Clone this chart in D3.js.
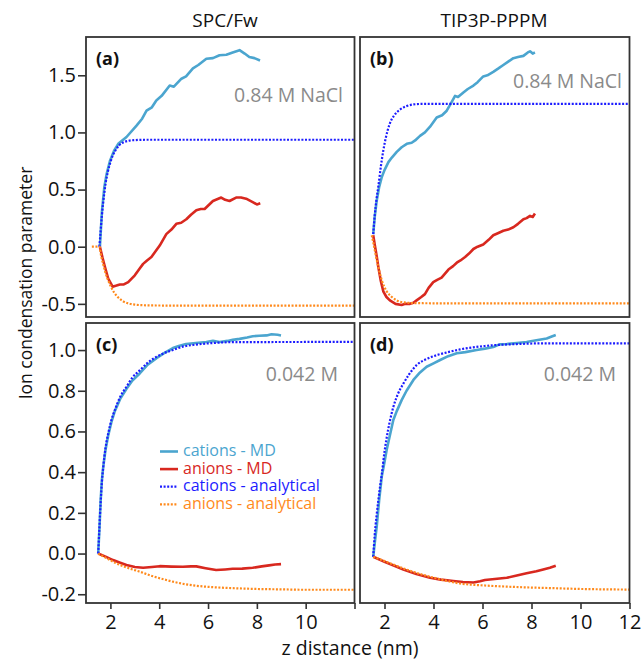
<!DOCTYPE html>
<html>
<head>
<meta charset="UTF-8">
<style>
  body { margin: 0; background: #fff; }
  svg text { font-family: "Open Sans", "DejaVu Sans", sans-serif; }
  .axis path { display: none; }
  .axis line { stroke: #333; stroke-width: 1.6; }
  .axis text { fill: #111; font-size: 20px; }
  .frame { fill: none; stroke: #333; stroke-width: 1.8; }
  .md { fill: none; stroke-width: 2.6; stroke-linejoin: round; }
  .an { fill: none; stroke-width: 2.2; stroke-dasharray: 2 1.6; }
</style>
<script src="https://d3js.org/d3.v7.min.js"></script>
</head>
<body>
<svg width="643" height="660"></svg>
<script>
// ---- data ----
var xTicks = [2, 4, 6, 8, 10, 12];
var yTicksTop = [-0.5, 0.0, 0.5, 1.0, 1.5];
var yTicksBottom = [-0.2, 0.0, 0.2, 0.4, 0.6, 0.8, 1.0];
var colTitles = ['SPC/Fw', 'TIP3P-PPPM'];
var panelTags = ['(a)', '(b)', '(c)', '(d)'];
var concLabels = ['0.84 M NaCl', '0.84 M NaCl', '0.042 M', '0.042 M'];
var legendNames = ['cations - MD', 'anions - MD', 'cations - analytical', 'anions - analytical'];

// panel (a) SPC/Fw, 0.84 M
var aCatMD = [[1.57,0],[1.65,0.3],[1.75,0.52],[1.85,0.64],[1.98,0.75],[2.15,0.84],[2.32,0.9],[2.66,0.96],[3.07,1.06],[3.3,1.12],[3.48,1.19],[3.7,1.22],[3.88,1.28],[4.1,1.32],[4.43,1.41],[4.6,1.40],[4.91,1.47],[5.1,1.49],[5.38,1.56],[5.6,1.59],[5.93,1.645],[6.2,1.65],[6.47,1.675],[6.75,1.68],[7.01,1.70],[7.29,1.72],[7.5,1.69],[7.69,1.66],[7.9,1.65],[8.13,1.63]];
var aAnMD = [[1.57,0],[1.68,-0.1],[1.78,-0.18],[1.91,-0.28],[2.09,-0.35],[2.25,-0.34],[2.39,-0.33],[2.55,-0.33],[2.73,-0.31],[3.0,-0.25],[3.2,-0.19],[3.34,-0.15],[3.5,-0.12],[3.68,-0.09],[3.85,-0.04],[4.02,0.01],[4.29,0.11],[4.5,0.15],[4.7,0.20],[4.9,0.21],[5.11,0.24],[5.3,0.28],[5.52,0.32],[5.7,0.33],[5.86,0.33],[6.2,0.40],[6.54,0.43],[6.7,0.41],[6.88,0.40],[7.15,0.43],[7.35,0.43],[7.56,0.42],[7.83,0.39],[8.0,0.37],[8.14,0.38]];
var aCatAn = [[1.55,0],[1.6,0.14],[1.65,0.27],[1.7,0.38],[1.75,0.47],[1.8,0.55],[1.9,0.66],[2.0,0.74],[2.1,0.80],[2.2,0.84],[2.35,0.885],[2.5,0.91],[2.7,0.925],[3.0,0.933],[3.5,0.936],[12,0.936]];
var aAnAn = [[1.24,0],[1.55,0],[1.62,-0.08],[1.7,-0.15],[1.8,-0.23],[1.9,-0.29],[2.0,-0.34],[2.15,-0.4],[2.3,-0.44],[2.5,-0.475],[2.75,-0.497],[3.0,-0.507],[3.5,-0.513],[4.5,-0.515],[12,-0.515]];

// panel (b) TIP3P-PPPM, 0.84 M
var bCatMD = [[1.54,0.11],[1.6,0.26],[1.68,0.40],[1.78,0.52],[1.89,0.61],[2.0,0.67],[2.16,0.74],[2.3,0.78],[2.5,0.83],[2.7,0.87],[2.91,0.90],[3.11,0.91],[3.25,0.93],[3.45,0.97],[3.65,1.0],[3.86,1.05],[4.13,1.13],[4.35,1.15],[4.54,1.19],[4.7,1.25],[4.88,1.32],[5.0,1.31],[5.22,1.35],[5.4,1.38],[5.63,1.41],[5.8,1.44],[6.03,1.49],[6.2,1.50],[6.44,1.53],[6.65,1.56],[6.85,1.59],[7.05,1.62],[7.26,1.65],[7.45,1.66],[7.67,1.67],[7.85,1.70],[7.94,1.71],[8.05,1.69],[8.14,1.70]];
var bAnMD = [[1.54,0.10],[1.6,0.02],[1.68,-0.08],[1.75,-0.18],[1.85,-0.30],[1.95,-0.39],[2.08,-0.44],[2.22,-0.47],[2.45,-0.5],[2.7,-0.51],[2.85,-0.5],[3.04,-0.50],[3.18,-0.49],[3.31,-0.47],[3.5,-0.44],[3.65,-0.415],[3.8,-0.36],[3.99,-0.31],[4.15,-0.29],[4.33,-0.27],[4.61,-0.20],[4.8,-0.17],[4.95,-0.14],[5.1,-0.12],[5.29,-0.09],[5.45,-0.06],[5.63,-0.02],[5.8,0.0],[6.03,0.02],[6.25,0.06],[6.44,0.10],[6.65,0.12],[6.85,0.14],[7.05,0.15],[7.26,0.17],[7.45,0.20],[7.67,0.24],[7.8,0.25],[7.94,0.27],[8.05,0.26],[8.14,0.29]];
var bCatAn = [[1.54,0.11],[1.6,0.27],[1.67,0.41],[1.75,0.53],[1.85,0.70],[1.95,0.84],[2.05,0.95],[2.22,1.08],[2.4,1.15],[2.63,1.20],[2.9,1.23],[3.18,1.245],[3.6,1.25],[12,1.25]];
var bAnAn = [[1.48,0.10],[1.55,0.03],[1.62,-0.05],[1.75,-0.18],[1.9,-0.3],[2.09,-0.39],[2.3,-0.44],[2.5,-0.47],[2.8,-0.487],[3.18,-0.493],[4,-0.495],[12,-0.495]];

// panel (c) SPC/Fw, 0.042 M
var cCatMD = [[1.5,0],[1.55,0.12],[1.6,0.26],[1.65,0.36],[1.71,0.43],[1.8,0.51],[1.91,0.58],[2.05,0.65],[2.18,0.70],[2.4,0.76],[2.66,0.81],[2.9,0.85],[3.2,0.885],[3.5,0.925],[3.89,0.96],[4.2,0.985],[4.56,1.01],[4.8,1.02],[5.1,1.03],[5.5,1.035],[5.93,1.04],[6.2,1.045],[6.47,1.04],[6.8,1.045],[7.01,1.05],[7.29,1.055],[7.6,1.062],[7.83,1.068],[8.1,1.07],[8.4,1.072],[8.6,1.078],[8.85,1.075],[8.99,1.072]];
var cAnMD = [[1.5,0],[1.8,-0.015],[2.11,-0.032],[2.4,-0.045],[2.66,-0.056],[3.0,-0.066],[3.34,-0.07],[3.7,-0.066],[4.02,-0.062],[4.5,-0.064],[4.97,-0.065],[5.3,-0.063],[5.52,-0.063],[5.9,-0.072],[6.33,-0.081],[6.7,-0.078],[7.01,-0.075],[7.4,-0.074],[7.83,-0.07],[8.2,-0.063],[8.5,-0.058],[8.75,-0.054],[8.99,-0.052]];
var cCatAn = [[1.5,0],[1.55,0.13],[1.6,0.25],[1.65,0.35],[1.71,0.43],[1.8,0.52],[1.91,0.59],[2.05,0.66],[2.18,0.705],[2.4,0.77],[2.66,0.82],[2.9,0.865],[3.2,0.90],[3.5,0.935],[3.89,0.967],[4.2,0.985],[4.56,1.0],[5.0,1.018],[5.38,1.025],[6.25,1.035],[7,1.039],[12,1.04]];
var cAnAn = [[1.5,0],[1.8,-0.02],[2.25,-0.048],[2.7,-0.07],[3.2,-0.089],[3.7,-0.11],[4.29,-0.13],[4.9,-0.147],[5.65,-0.16],[6.3,-0.166],[7.0,-0.17],[8,-0.174],[9.0,-0.176],[10,-0.178],[12,-0.178]];

// panel (d) TIP3P-PPPM, 0.042 M
var dCatMD = [[1.54,-0.016],[1.6,0.05],[1.68,0.13],[1.78,0.26],[1.89,0.38],[2.0,0.45],[2.09,0.51],[2.2,0.57],[2.36,0.656],[2.5,0.70],[2.7,0.754],[2.9,0.80],[3.18,0.853],[3.45,0.89],[3.72,0.918],[4.0,0.935],[4.27,0.951],[4.6,0.97],[4.95,0.984],[5.3,0.99],[5.76,1.0],[6.1,1.007],[6.44,1.015],[6.7,1.028],[6.99,1.03],[7.4,1.035],[7.8,1.04],[8.2,1.048],[8.62,1.057],[8.8,1.065],[8.99,1.074]];
var dAnMD = [[1.54,-0.016],[2.0,-0.04],[2.4,-0.06],[2.77,-0.078],[3.3,-0.1],[3.86,-0.119],[4.3,-0.128],[4.81,-0.135],[5.2,-0.14],[5.63,-0.142],[5.9,-0.136],[6.1,-0.13],[6.5,-0.125],[6.99,-0.119],[7.4,-0.108],[7.8,-0.097],[8.2,-0.087],[8.48,-0.078],[8.75,-0.07],[8.99,-0.06]];
var dCatAn = [[1.54,-0.016],[1.6,0.09],[1.68,0.19],[1.75,0.263],[1.82,0.33],[1.89,0.39],[2.0,0.50],[2.09,0.57],[2.2,0.64],[2.36,0.72],[2.55,0.785],[2.77,0.835],[3.0,0.88],[3.31,0.926],[3.7,0.955],[4.13,0.975],[4.6,0.99],[5.08,1.003],[6.1,1.02],[7.5,1.03],[8.5,1.033],[12,1.033]];
var dAnAn = [[1.54,-0.016],[2.0,-0.037],[2.77,-0.073],[3.3,-0.095],[3.86,-0.114],[4.5,-0.133],[5.08,-0.147],[6.1,-0.157],[7.5,-0.165],[8.86,-0.17],[10,-0.174],[12,-0.177]];

// ---- colours ----
var cCatMDcol = '#4ba5cf', cAnMDcol = '#d8281f', cCatAncol = '#1c1cff', cAnAncol = '#ff8a1c';

// ---- layout ----
var svg = d3.select('svg');
var colX = [[86, 354.5], [360, 629.5]];
var rowY = [[317, 37], [603, 323]];
var yDomains = [[-0.615, 1.835], [-0.243, 1.133]];
var yTickSets = [yTicksTop, yTicksBottom];

var panels = [
  { col: 0, row: 0, series: [aCatMD, aAnMD, aCatAn, aAnAn] },
  { col: 1, row: 0, series: [bCatMD, bAnMD, bCatAn, bAnAn] },
  { col: 0, row: 1, series: [cCatMD, cAnMD, cCatAn, cAnAn] },
  { col: 1, row: 1, series: [dCatMD, dAnMD, dCatAn, dAnAn] }
];
var concPos = [[343, 101.5], [622, 88], [338, 381], [616, 381]];
var seriesCol = [cCatMDcol, cAnMDcol, cCatAncol, cAnAncol];

var fmt = function(d) { return d.toFixed(1); };

panels.forEach(function(p, i) {
  var x = d3.scaleLinear().domain([1, 12]).range(colX[p.col]);
  var y = d3.scaleLinear().domain(yDomains[p.row]).range(rowY[p.row]);
  var g = svg.append('g');

  var line = d3.line()
    .x(function(d) { return x(d[0]); })
    .y(function(d) { return y(d[1]); });
  var smooth = d3.line().curve(d3.curveMonotoneX)
    .x(function(d) { return x(d[0]); })
    .y(function(d) { return y(d[1]); });

  // MD first, analytical dotted on top
  [0, 1].forEach(function(k) {
    g.append('path').attr('class', 'md')
      .attr('d', line(p.series[k]))
      .style('stroke', seriesCol[k]);
  });
  [2, 3].forEach(function(k) {
    g.append('path').attr('class', 'an')
      .attr('d', smooth(p.series[k]))
      .style('stroke', seriesCol[k]);
  });

  g.append('rect').attr('class', 'frame')
    .attr('x', colX[p.col][0]).attr('y', rowY[p.row][1])
    .attr('width', colX[p.col][1] - colX[p.col][0])
    .attr('height', rowY[p.row][0] - rowY[p.row][1]);

  if (p.col === 0) {
    g.append('g').attr('class', 'axis')
      .attr('transform', 'translate(' + colX[0][0] + ',0)')
      .call(d3.axisLeft(y).tickValues(yTickSets[p.row]).tickFormat(fmt).tickSize(8).tickPadding(2));
  }
  if (p.row === 1) {
    g.append('g').attr('class', 'axis')
      .attr('transform', 'translate(0,' + rowY[1][0] + ')')
      .call(d3.axisBottom(x).tickValues(xTicks).tickSize(6).tickPadding(6)
        .tickFormat(function(d) { return (p.col === 0 && d === 12) ? '' : d; }));
  }

  g.append('text')
    .attr('x', colX[p.col][0] + 10).attr('y', rowY[p.row][1] + 28)
    .style('font-size', '18px').style('font-weight', 'bold').style('fill', '#111')
    .text(panelTags[i]);

  g.append('text')
    .attr('x', concPos[i][0]).attr('y', concPos[i][1])
    .attr('text-anchor', 'end')
    .style('font-size', '19.5px').style('fill', '#8a8a8a')
    .text(concLabels[i]);
});

// column titles
colTitles.forEach(function(t, i) {
  svg.append('text')
    .attr('x', i === 0 ? 225 : 494).attr('y', 27)
    .attr('text-anchor', 'middle')
    .style('font-size', '19px').style('fill', '#111')
    .text(t);
});

// axis labels
svg.append('text')
  .attr('x', 350).attr('y', 655)
  .attr('text-anchor', 'middle')
  .style('font-size', '19.5px').style('fill', '#111')
  .text('z distance (nm)');

svg.append('text')
  .attr('transform', 'translate(32,283) rotate(-90)')
  .attr('text-anchor', 'middle')
  .style('font-size', '17.5px').style('fill', '#111')
  .text('Ion condensation parameter');

// legend inside panel (c)
var legend = svg.append('g').attr('transform', 'translate(160,456)');
legendNames.forEach(function(n, i) {
  var row = legend.append('g').attr('transform', 'translate(0,' + (i * 17.6) + ')');
  row.append('line')
    .attr('class', i < 2 ? 'md' : 'an')
    .attr('x1', 0).attr('x2', 18).attr('y1', -4.5).attr('y2', -4.5)
    .style('stroke', seriesCol[i]);
  row.append('text')
    .attr('x', 23)
    .style('font-size', '16px').style('fill', seriesCol[i])
    .text(n);
});
</script>
</body>
</html>
